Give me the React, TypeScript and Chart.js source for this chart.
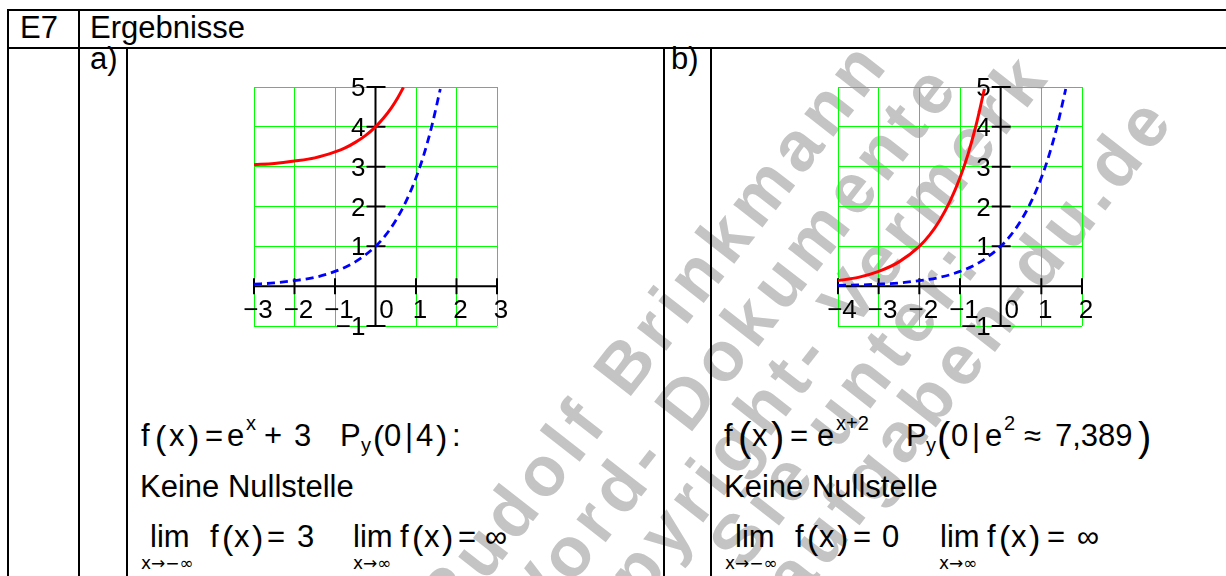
import React, { useEffect, useRef } from 'react';
import { Chart, registerables } from 'chart.js';

Chart.register(...registerables);

const FONT = '"Liberation Sans", Arial, Helvetica, sans-serif';

// ---- plot a): f(x) = e^x + 3 (red) and e^x (blue, dashed)
const xTicksA = [-3, -2, -1, 0, 1, 2, 3];
const xTickLabelsA = ['−3', '−2', '−1', '0', '1', '2', '3'];
const redAX = [-3, -2.5, -2, -1.5, -1, -0.75, -0.5, -0.25, 0, 0.2, 0.4, 0.55, 0.69];
const redAY = [3.05, 3.08, 3.14, 3.22, 3.37, 3.47, 3.61, 3.78, 4.0, 4.22, 4.49, 4.73, 4.99];
const blueAX = [-3, -2.5, -2, -1.5, -1, -0.5, 0, 0.25, 0.5, 0.75, 1, 1.2, 1.4, 1.6];
const blueAY = [0.05, 0.08, 0.14, 0.22, 0.37, 0.61, 1.0, 1.28, 1.65, 2.12, 2.72, 3.32, 4.06, 4.95];

// ---- plot b): f(x) = e^(x+2) (red) and e^x (blue, dashed)
const xTicksB = [-4, -3, -2, -1, 0, 1, 2];
const xTickLabelsB = ['−4', '−3', '−2', '−1', '0', '1', '2'];
const redBX = [-4, -3.5, -3, -2.5, -2, -1.75, -1.5, -1.25, -1, -0.8, -0.6, -0.4];
const redBY = [0.14, 0.22, 0.37, 0.61, 1.0, 1.28, 1.65, 2.12, 2.72, 3.32, 4.06, 4.95];
const blueBX = [-4, -3.5, -3, -2.5, -2, -1.5, -1, -0.5, 0, 0.25, 0.5, 0.75, 1, 1.2, 1.4, 1.6];
const blueBY = [0.02, 0.03, 0.05, 0.08, 0.14, 0.22, 0.37, 0.61, 1.0, 1.28, 1.65, 2.12, 2.72, 3.32, 4.06, 4.95];

// shared y axis
const yTicks = [-1, 1, 2, 3, 4, 5];
const yTickLabels = ['−1', '1', '2', '3', '4', '5'];

// watermark lines (text runs up to the given end point)
const markLines = [
  { text: 'Rudolf Brinkmann', x: 892, y: 62 },
  { text: 'Word- Dokumente', x: 963, y: 85 },
  { text: 'Copyright- Vermerk', x: 1053, y: 75 },
  { text: 'finden Sie unter:', x: 985, y: 262 },
  { text: 'aufgaben-du.de', x: 1178, y: 118 },
];

const toPoints = (xs: number[], ys: number[]) => xs.map((x, i) => ({ x, y: ys[i] }));

// black cross axes with tick marks and labels, drawn through the chart's scales
const crossAxes = {
  id: 'crossAxes',
  beforeDatasetsDraw(chart: any, _args: any, opts: any) {
    const { ctx } = chart;
    const sx = chart.scales.x;
    const sy = chart.scales.y;
    const x0 = sx.getPixelForValue(0);
    const y0 = sy.getPixelForValue(0);
    ctx.save();
    ctx.strokeStyle = '#000';
    ctx.lineWidth = 2;
    ctx.beginPath();
    ctx.moveTo(sx.getPixelForValue(sx.min), y0);
    ctx.lineTo(sx.getPixelForValue(sx.max), y0);
    ctx.moveTo(x0, sy.getPixelForValue(sy.min));
    ctx.lineTo(x0, sy.getPixelForValue(sy.max));
    opts.xTicks.forEach((v: number) => {
      const px = sx.getPixelForValue(v);
      ctx.moveTo(px, y0 - 8);
      ctx.lineTo(px, y0 + 8);
    });
    opts.yTicks.forEach((v: number) => {
      const py = sy.getPixelForValue(v);
      ctx.moveTo(x0 - 9, py);
      ctx.lineTo(x0 + 10, py);
    });
    ctx.stroke();

    ctx.fillStyle = '#000';
    ctx.font = `26px ${FONT}`;
    ctx.textBaseline = 'alphabetic';
    ctx.textAlign = 'center';
    opts.xTicks.forEach((v: number, i: number) => {
      const px = sx.getPixelForValue(v) + (v === 0 ? 11 : 4);
      ctx.fillText(opts.xLabels[i], px, y0 + 32);
    });
    ctx.textAlign = 'right';
    opts.yTicks.forEach((v: number, i: number) => {
      ctx.fillText(opts.yLabels[i], x0 - 10, sy.getPixelForValue(v) + 9);
    });
    ctx.restore();
  },
};

type PlotProps = {
  left: number; top: number; width: number; height: number;
  pad: { left: number; top: number; right: number; bottom: number };
  xMin: number; xMax: number;
  xTicks: number[]; xLabels: string[];
  red: { x: number; y: number }[]; blue: { x: number; y: number }[];
};

function MathPlot(p: PlotProps) {
  const ref = useRef<HTMLCanvasElement>(null);
  useEffect(() => {
    if (!ref.current) return;
    const grid = { color: '#00ff00', lineWidth: 1, drawTicks: false };
    const chart = new Chart(ref.current, {
      type: 'line',
      data: {
        datasets: [
          {
            data: p.red, borderColor: '#ff0000', borderWidth: 3, pointRadius: 0,
            cubicInterpolationMode: 'monotone', fill: false,
          },
          {
            data: p.blue, borderColor: '#0000ff', borderWidth: 2.8, borderDash: [8, 5], pointRadius: 0,
            cubicInterpolationMode: 'monotone', fill: false,
          },
        ],
      },
      options: {
        responsive: false,
        animation: false,
        events: [],
        layout: { padding: p.pad },
        plugins: {
          legend: { display: false },
          tooltip: { enabled: false },
          crossAxes: { xTicks: p.xTicks, xLabels: p.xLabels, yTicks, yLabels: yTickLabels },
        } as any,
        scales: {
          x: {
            type: 'linear', min: p.xMin, max: p.xMax,
            ticks: { display: false, stepSize: 1 }, grid, border: { display: false },
          },
          y: {
            type: 'linear', min: -1, max: 5,
            ticks: { display: false, stepSize: 1 }, grid, border: { display: false },
          },
        },
      },
      plugins: [crossAxes],
    } as any);
    return () => chart.destroy();
  }, []);
  return (
    <canvas
      ref={ref}
      width={p.width}
      height={p.height}
      style={{ position: 'absolute', left: p.left, top: p.top, width: p.width, height: p.height }}
    />
  );
}

// text placed by its baseline
function T({ x, y, s = 31, f = FONT, children }: { x: number; y: number; s?: number; f?: string; children: React.ReactNode }) {
  return (
    <div
      style={{
        position: 'absolute', left: x, top: y - 0.8465 * s, fontSize: s, lineHeight: `${s}px`,
        fontFamily: f, whiteSpace: 'pre', color: '#000',
      }}
    >
      {children}
    </div>
  );
}

const SUB_FONT = '"DejaVu Sans", "Liberation Sans", sans-serif';

function Mark({ text, x, y }: { text: string; x: number; y: number }) {
  const s = 70;
  const b = 0.8465 * s;
  return (
    <div
      style={{
        position: 'absolute', left: x, top: y - b, fontSize: s, lineHeight: `${s}px`, fontWeight: 700,
        letterSpacing: 7, color: '#c4c4c4', fontFamily: FONT, whiteSpace: 'pre',
        transformOrigin: `0px ${b}px`, transform: 'rotate(-52deg) translateX(-100%)',
      }}
    >
      {text}
    </div>
  );
}

function Line({ x, y, w, h }: { x: number; y: number; w: number; h: number }) {
  return <div style={{ position: 'absolute', left: x, top: y, width: w, height: h, background: '#000' }} />;
}

export default function App() {
  return (
    <div
      style={{
        position: 'absolute', left: 0, top: 0, width: 1226, height: 576, overflow: 'hidden',
        background: '#fff', fontFamily: FONT,
      }}
    >
      {markLines.map((m) => (
        <Mark key={m.text} text={m.text} x={m.x} y={m.y} />
      ))}

      {/* table rules */}
      <Line x={7} y={9} w={1219} h={2} />
      <Line x={7} y={47} w={1219} h={2} />
      <Line x={7} y={9} w={2} h={567} />
      <Line x={78} y={9} w={2} h={567} />
      <Line x={126} y={47} w={2} h={529} />
      <Line x={663} y={47} w={2} h={529} />
      <Line x={710} y={47} w={2} h={529} />

      <T x={20} y={38}>E7</T>
      <T x={90} y={38}>Ergebnisse</T>
      <T x={90} y={69}>a)</T>
      <T x={671} y={69}>b)</T>

      <MathPlot
        left={214} top={57} width={330} height={300}
        pad={{ left: 40, top: 30, right: 47, bottom: 31 }}
        xMin={-3} xMax={3} xTicks={xTicksA} xLabels={xTickLabelsA}
        red={toPoints(redAX, redAY)} blue={toPoints(blueAX, blueAY)}
      />
      <MathPlot
        left={798} top={57} width={330} height={300}
        pad={{ left: 40, top: 30, right: 46, bottom: 31 }}
        xMin={-4} xMax={2} xTicks={xTicksB} xLabels={xTickLabelsB}
        red={toPoints(redBX, redBY)} blue={toPoints(blueBX, blueBY)}
      />

      {/* a) results */}
      <T x={141} y={446}>f</T>
      <T x={155} y={449} s={34}>(</T>
      <T x={169} y={446}>x</T>
      <T x={188} y={449} s={34}>)</T>
      <T x={205} y={446}>=</T>
      <T x={227} y={446}>e</T>
      <T x={246} y={430} s={20}>x</T>
      <T x={264} y={446}>+</T>
      <T x={294} y={446}>3</T>
      <T x={340} y={446}>P</T>
      <T x={361} y={452} s={20}>y</T>
      <T x={373} y={449} s={34}>(</T>
      <T x={384} y={446}>0</T>
      <T x={405} y={446}>|</T>
      <T x={416} y={446}>4</T>
      <T x={436} y={449} s={34}>)</T>
      <T x={452} y={446}>:</T>

      <T x={140} y={497}>Keine Nullstelle</T>

      <T x={150} y={547}>lim</T>
      <T x={141} y={569} s={17} f={SUB_FONT}>x→−∞</T>
      <T x={210} y={547}>f</T>
      <T x={222} y={549} s={34}>(</T>
      <T x={234} y={547}>x</T>
      <T x={252} y={549} s={34}>)</T>
      <T x={267} y={547}>=</T>
      <T x={297} y={547}>3</T>
      <T x={353} y={547}>lim</T>
      <T x={353} y={569} s={17} f={SUB_FONT}>x→∞</T>
      <T x={400} y={547}>f</T>
      <T x={412} y={549} s={34}>(</T>
      <T x={424} y={547}>x</T>
      <T x={442} y={549} s={34}>)</T>
      <T x={458} y={547}>=</T>
      <T x={485} y={547}>∞</T>

      {/* b) results */}
      <T x={724} y={446}>f</T>
      <T x={738} y={451} s={40}>(</T>
      <T x={752} y={446}>x</T>
      <T x={771} y={451} s={40}>)</T>
      <T x={790} y={446}>=</T>
      <T x={817} y={446}>e</T>
      <T x={836} y={430} s={20}>x+2</T>
      <T x={906} y={446}>P</T>
      <T x={926} y={452} s={20}>y</T>
      <T x={937} y={451} s={40}>(</T>
      <T x={951} y={446}>0</T>
      <T x={972} y={446}>|</T>
      <T x={985} y={446}>e</T>
      <T x={1004} y={430} s={20}>2</T>
      <T x={1024} y={446}>≈</T>
      <T x={1055} y={446}>7,389</T>
      <T x={1138} y={451} s={40}>)</T>

      <T x={724} y={497}>Keine Nullstelle</T>

      <T x={735} y={547}>lim</T>
      <T x={725} y={569} s={17} f={SUB_FONT}>x→−∞</T>
      <T x={795} y={547}>f</T>
      <T x={807} y={549} s={34}>(</T>
      <T x={819} y={547}>x</T>
      <T x={837} y={549} s={34}>)</T>
      <T x={853} y={547}>=</T>
      <T x={882} y={547}>0</T>
      <T x={940} y={547}>lim</T>
      <T x={939} y={569} s={17} f={SUB_FONT}>x→∞</T>
      <T x={987} y={547}>f</T>
      <T x={999} y={549} s={34}>(</T>
      <T x={1011} y={547}>x</T>
      <T x={1029} y={549} s={34}>)</T>
      <T x={1047} y={547}>=</T>
      <T x={1077} y={547}>∞</T>
    </div>
  );
}
